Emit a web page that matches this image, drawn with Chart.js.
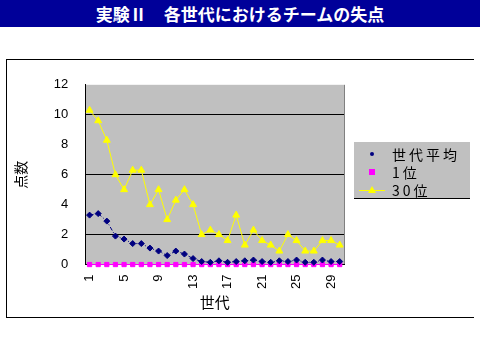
<!DOCTYPE html>
<html lang="ja">
  <head>
    <meta charset="UTF-8" />
    <title>実験Ⅱ 各世代におけるチームの失点</title>
    <script src="https://cdn.jsdelivr.net/npm/chart.js"></script>
    <style>
      * {
        box-sizing: border-box;
      }

      body {
        margin: 0;
        width: 480px;
        height: 360px;
        background: #fff;
        position: relative;
        overflow: hidden;
        font-family: "Noto Sans CJK JP", sans-serif;
      }

      .title {
        position: absolute;
        left: 0;
        top: 0;
        width: 480px;
        height: 27px;
        background: #000099;
        color: #fff;
        font-size: 17px;
        font-weight: bold;
        line-height: 27px;
        text-align: center;
      }

      .frame {
        position: absolute;
        left: 6px;
        top: 59px;
        width: 468px;
        height: 259px;
        border-top: 1px solid #000;
        border-left: 1px solid #000;
        border-bottom: 1px solid #000;
      }

      .legend {
        position: absolute;
        left: 354px;
        top: 142px;
        width: 116px;
        height: 57px;
        background: #c0c0c0;
        border-bottom: 1px solid #000;
        padding-top: 3px;
      }

      .legend-row {
        display: flex;
        align-items: center;
        height: 18px;
        font-size: 14px;
        letter-spacing: 3px;
        color: #000;
      }

      .legend-row canvas {
        margin-left: 5px;
        margin-right: 7px;
      }
    </style>
  </head>

  <body>
    <div class="title">実験Ⅱ　各世代におけるチームの失点</div>
    <div class="frame">
      <canvas id="chart"></canvas>
    </div>
    <div class="legend" id="legend"></div>

    <script>
      const generations = [
        "1", "2", "3", "4", "5", "6", "7", "8", "9", "10",
        "11", "12", "13", "14", "15", "16", "17", "18", "19", "20",
        "21", "22", "23", "24", "25", "26", "27", "28", "29", "30",
      ];
      const averagePoints = [
        3.3, 3.4, 2.9, 1.9, 1.7, 1.4, 1.4, 1.1, 0.9, 0.6,
        0.9, 0.7, 0.4, 0.2, 0.15, 0.25, 0.15, 0.2, 0.25, 0.3,
        0.2, 0.15, 0.25, 0.2, 0.3, 0.15, 0.15, 0.3, 0.2, 0.2,
      ];
      const firstPoints = [
        0, 0, 0, 0, 0, 0, 0, 0, 0, 0,
        0, 0, 0, 0, 0, 0, 0, 0, 0, 0,
        0, 0, 0, 0, 0, 0, 0, 0, 0, 0,
      ];
      const lastPoints = [
        10.3, 9.6, 8.3, 6.0, 5.0, 6.3, 6.3, 4.0, 5.0, 3.0,
        4.3, 5.0, 4.0, 2.0, 2.3, 2.0, 1.6, 3.3, 1.3, 2.3,
        1.6, 1.3, 0.9, 2.0, 1.6, 0.9, 0.9, 1.6, 1.6, 1.3,
      ];
      const yTicks = [0, 2, 4, 6, 8, 10, 12];

      const tickFont = { family: "'Liberation Sans', Arial", size: 13 };
      const jpFont = { family: "'Noto Sans CJK JP'", size: 14 };

      // grey plot area like the Excel chart
      const plotBackground = {
        id: "plotBackground",
        beforeDraw(chart) {
          const { ctx, chartArea: a } = chart;
          ctx.save();
          ctx.fillStyle = "#c0c0c0";
          ctx.fillRect(a.left, a.top, a.right - a.left, a.bottom - a.top);
          ctx.strokeStyle = "#808080";
          ctx.lineWidth = 1;
          ctx.beginPath();
          ctx.moveTo(a.right + 0.5, a.top);
          ctx.lineTo(a.right + 0.5, a.bottom);
          ctx.stroke();
          ctx.restore();
        },
      };

      const chart = new Chart(document.getElementById("chart"), {
        type: "line",
        data: {
          labels: generations,
          datasets: [
            {
              label: "世代平均",
              data: averagePoints,
              borderColor: "#000080",
              backgroundColor: "#000080",
              borderWidth: 1,
              borderDash: [4, 2, 1, 2],
              pointStyle: "rectRot",
              pointRadius: 3,
              legendMarker: "dot",
            },
            {
              label: "1位",
              data: firstPoints,
              borderColor: "#ff00ff",
              backgroundColor: "#ff00ff",
              borderWidth: 1,
              pointStyle: "rect",
              pointRadius: 3,
              legendMarker: "square",
            },
            {
              label: "30位",
              data: lastPoints,
              borderColor: "#ffff00",
              backgroundColor: "#ffff00",
              borderWidth: 1,
              pointStyle: "triangle",
              pointRadius: 4,
              legendMarker: "triangle",
            },
          ],
        },
        options: {
          responsive: true,
          maintainAspectRatio: false,
          animation: false,
          clip: false,
          layout: { padding: { top: 4, right: 130, bottom: 6, left: 5 } },
          plugins: {
            legend: { display: false },
            tooltip: { enabled: false },
          },
          scales: {
            x: {
              offset: true,
              grid: { display: false },
              border: { color: "#000", width: 1 },
              ticks: {
                autoSkip: false,
                minRotation: 90,
                maxRotation: 90,
                color: "#000",
                font: tickFont,
                padding: 2,
                callback: (v, i) => (i % 4 === 0 ? generations[i] : ""),
              },
              title: {
                display: true,
                text: "世代",
                color: "#000",
                font: { family: jpFont.family, size: 15 },
                padding: { top: 2, bottom: 0 },
              },
            },
            y: {
              min: 0,
              max: 12,
              afterBuildTicks: (axis) => {
                axis.ticks = yTicks.map((v) => ({ value: v }));
              },
              grid: {
                color: (ctx) => (ctx.tick && ctx.tick.value % 4 === 2 ? "#000" : "rgba(0,0,0,0)"),
                drawTicks: false,
                lineWidth: 1,
              },
              border: { color: "#000", width: 1 },
              ticks: {
                color: "#000",
                font: tickFont,
                padding: 17,
              },
              title: {
                display: true,
                text: "点数",
                color: "#000",
                font: jpFont,
                padding: { top: 0, bottom: 8 },
              },
            },
          },
        },
        plugins: [plotBackground],
      });

      // legend box built from the datasets
      const legend = document.getElementById("legend");
      chart.data.datasets.forEach((ds) => {
        const row = document.createElement("div");
        row.className = "legend-row";
        const icon = document.createElement("canvas");
        icon.width = 26;
        icon.height = 12;
        const c = icon.getContext("2d");
        c.fillStyle = ds.backgroundColor;
        c.strokeStyle = ds.borderColor;
        if (ds.legendMarker === "dot") {
          c.beginPath();
          c.arc(13, 6, 2, 0, Math.PI * 2);
          c.fill();
        } else if (ds.legendMarker === "square") {
          c.fillRect(10, 3, 6, 6);
        } else {
          c.beginPath();
          c.moveTo(0, 6.5);
          c.lineTo(26, 6.5);
          c.stroke();
          c.beginPath();
          c.moveTo(13, 2);
          c.lineTo(17, 9);
          c.lineTo(9, 9);
          c.closePath();
          c.fill();
        }
        row.appendChild(icon);
        const text = document.createElement("span");
        text.textContent = ds.label;
        row.appendChild(text);
        legend.appendChild(row);
      });
    </script>
  </body>
</html>
